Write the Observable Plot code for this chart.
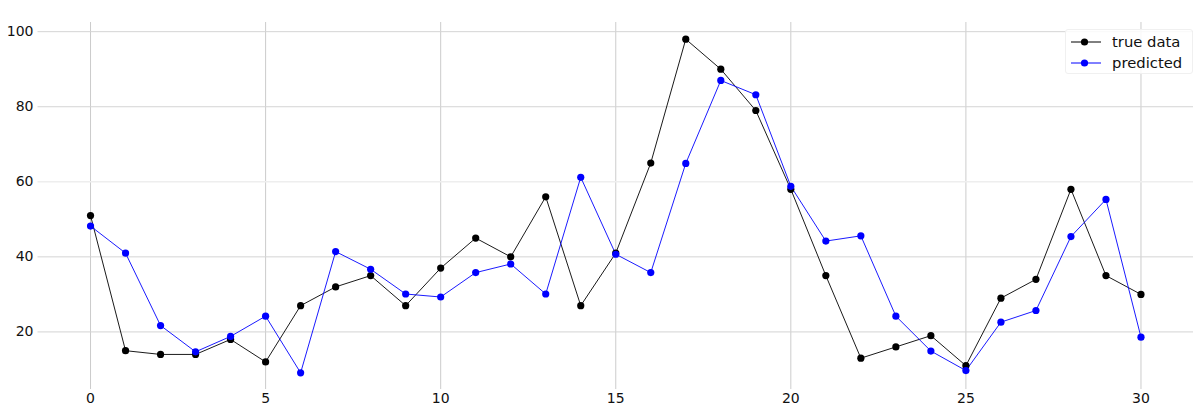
<!DOCTYPE html>
<html>
<head>
<meta charset="utf-8">
<script src="https://cdn.jsdelivr.net/npm/d3@7"></script>
<script src="https://cdn.jsdelivr.net/npm/@observablehq/plot@0.6"></script>
<style>
  html, body { margin: 0; padding: 0; background: #fff; }
  #wrap { position: relative; width: 1198px; height: 413px; font-family: "DejaVu Sans", sans-serif; }
  #legend { position: absolute; left: 1065px; top: 29px; width: 128px; height: 45px; background: rgba(255,255,255,0.85);
    border: 1px solid #f0f0f0; border-radius: 3px; box-sizing: border-box; font-size: 14.8px; color: #111; }
  .item { position: absolute; left: 4px; height: 20px; display: flex; align-items: center; }
  .item svg { display: block; }
  .item span { margin-left: 10px; }
</style>
</head>
<body>
<div id="wrap"><div id="chart"></div><div id="legend"></div></div>
<script>
const steps = d3.range(0, 31);
const trueData = [51, 15, 14, 14, 18, 12, 27, 32, 35, 27, 37, 45, 40, 56, 27,
                  41, 65, 98, 90, 79, 58, 35, 13, 16, 19, 11, 29, 34, 58, 35, 30];
const predicted = [48.2, 41.0, 21.7, 14.7, 18.8, 24.2, 9.1, 41.4, 36.7, 30.1, 29.3, 35.8, 38.1, 30.1, 61.2,
                   40.7, 35.8, 64.9, 87.0, 83.2, 58.8, 44.2, 45.6, 24.2, 14.9, 9.7, 22.6, 25.7, 45.4, 55.3, 18.6];
const seriesNames = ["true data", "predicted"];
const seriesColors = ["#000000", "#0000ff"];
const xTicks = [0, 5, 10, 15, 20, 25, 30];
const yTicks = [20, 40, 60, 80, 100];

const rows = [];
steps.forEach((s, i) => {
  rows.push({step: s, value: trueData[i], series: seriesNames[0]});
  rows.push({step: s, value: predicted[i], series: seriesNames[1]});
});

const all = trueData.concat(predicted);
const yMin = d3.min(all), yMax = d3.max(all);
const yPad = (yMax - yMin) * 0.05;
const xPad = (d3.max(steps) - d3.min(steps)) * 0.05;

const chart = Plot.plot({
  width: 1198,
  height: 413,
  marginLeft: 37.5,
  marginRight: 5,
  marginTop: 22,
  marginBottom: 24,
  style: {fontFamily: "DejaVu Sans, sans-serif", fontSize: "14px", color: "#111", background: "#fff"},
  x: {domain: [d3.min(steps) - xPad, d3.max(steps) + xPad]},
  y: {domain: [yMin - yPad, yMax + yPad]},
  color: {domain: seriesNames, range: seriesColors},
  marks: [
    Plot.ruleX(xTicks, {stroke: "#cccccc", strokeWidth: 1}),
    Plot.ruleY(yTicks, {stroke: d => d === 60 ? "#eeeeee" : "#d4d4d4", strokeWidth: d => d === 60 ? 1.6 : 1}),
    Plot.axisX({ticks: xTicks, tickSize: 0, tickPadding: 4, label: null, fontSize: 14}),
    Plot.axisY({ticks: yTicks, tickSize: 0, tickPadding: 4.5, label: null, fontSize: 14}),
    Plot.line(rows, {x: "step", y: "value", z: "series", stroke: "series", strokeWidth: 0.9}),
    Plot.dot(rows, {x: "step", y: "value", fill: "series", r: 3.6, stroke: null})
  ]
});
document.getElementById("chart").appendChild(chart);

const legend = document.getElementById("legend");
seriesNames.forEach((name, i) => {
  const item = document.createElement("div");
  item.className = "item";
  item.style.top = (i === 0 ? 1.5 : 22.5) + "px";
  item.innerHTML = `<svg width="32" height="10"><line x1="1" x2="31" y1="5" y2="5" stroke="${seriesColors[i]}" stroke-width="1"/><circle cx="14.5" cy="5" r="3.6" fill="${seriesColors[i]}"/></svg><span>${name}</span>`;
  legend.appendChild(item);
});
</script>
</body>
</html>
